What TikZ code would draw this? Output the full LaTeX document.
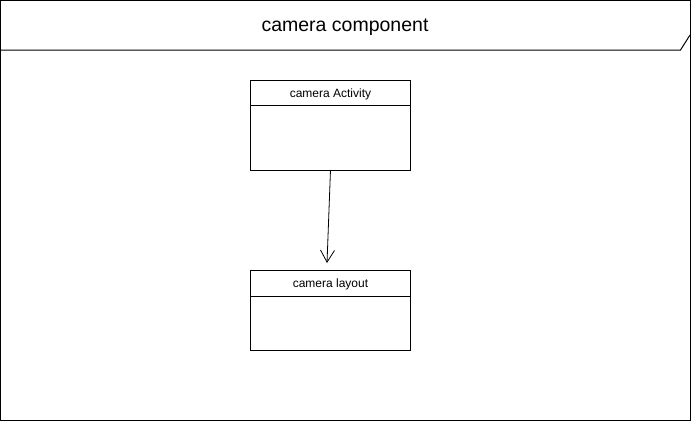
\documentclass[tikz,border=0pt]{standalone}
\usepackage{fontspec}
\setmainfont{Liberation Sans}
\usetikzlibrary{arrows.meta}
\begin{document}
\begin{tikzpicture}[x=1pt,y=-1pt,
  frameline/.style={draw=black,line width=1pt},
  classbox/.style={draw=black,line width=0.8pt,fill=white},
  classlabel/.style={font=\fontsize{12}{14}\selectfont,anchor=center,inner sep=0pt},
  titlelabel/.style={font=\fontsize{19.5}{23}\selectfont,anchor=center,inner sep=0pt},
  assoc/.style={draw=black,line width=0.8pt,-{Straight Barb[length=12pt,width=14pt,line width=0.8pt]}}]
\useasboundingbox (0,0) rectangle (691,421);
\fill[white] (0,0) rectangle (691,421);
% outer frame
\draw[frameline] (0.5,0.5) rectangle (690,420);
\draw[frameline] (0.5,50) -- (680.5,50) -- (690,35);
\node[titlelabel] (title) at (345,27) {camera component};
% class 1
\draw[classbox] (250.5,80.5) rectangle (410.5,170);
\draw[classbox] (250.5,105.5) -- (410.5,105.5);
\node[classlabel] (act) at (330.5,94) {camera Activity};
\coordinate (a1) at (330.5,170);
% class 2
\draw[classbox] (250.5,270.5) rectangle (410.5,350);
\draw[classbox] (250.5,296) -- (410.5,296);
\node[classlabel] (lay) at (330.5,284.5) {camera layout};
\coordinate (a2) at (327,263);
\draw[assoc] (a1) -- (a2);
\end{tikzpicture}
\end{document}
